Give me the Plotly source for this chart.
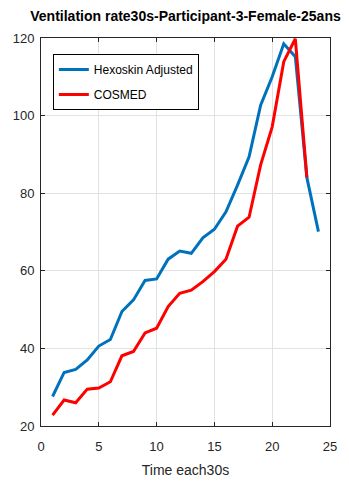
import plotly.graph_objects as go

# Ventilation rate sampled every 30 s
time_steps_hexo = list(range(1, 25))
hexoskin_adjusted = [27.6, 33.8, 34.6, 37.0, 40.6, 42.3, 49.5, 52.5, 57.5, 57.9,
                     63.0, 65.1, 64.5, 68.5, 70.7, 75.2, 82.1, 89.4, 102.7, 110.0,
                     118.5, 115.2, 84.0, 70.1]

time_steps_cosmed = list(range(1, 24))
cosmed = [22.8, 26.7, 26.0, 29.5, 29.8, 31.4, 38.1, 39.2, 44.0, 45.2,
          50.8, 54.2, 55.0, 57.2, 59.8, 63.0, 71.5, 73.8, 87.3, 97.1,
          113.9, 119.8, 84.1]

x_ticks = [0, 5, 10, 15, 20, 25]
y_ticks = [20, 40, 60, 80, 100, 120]

FONT = "Liberation Sans, Arial, Helvetica, sans-serif"
AXIS_COLOR = "#262626"

fig = go.Figure()
fig.add_trace(go.Scatter(x=time_steps_hexo, y=hexoskin_adjusted, mode="lines",
                         name="Hexoskin Adjusted", legendgroup="hexo",
                         line=dict(color="#0072BD", width=3)))
fig.add_trace(go.Scatter(x=time_steps_cosmed, y=cosmed, mode="lines",
                         name="COSMED", legendgroup="cosmed",
                         line=dict(color="#FF0000", width=3)))

axis_common = dict(
    showline=True, linecolor=AXIS_COLOR, linewidth=1, mirror="ticks",
    ticks="inside", ticklen=4, tickcolor=AXIS_COLOR,
    showgrid=True, gridcolor="#e2e2e2", gridwidth=1,
    zeroline=False,
    tickfont=dict(family=FONT, size=13, color=AXIS_COLOR),
)

fig.update_layout(
    width=349, height=487,
    margin=dict(l=41, r=17, t=38, b=61),
    paper_bgcolor="white", plot_bgcolor="white",
    title=dict(text="<b>Ventilation rate30s-Participant-3-Female-25ans</b>",
               font=dict(family=FONT, size=14, color="#000000"),
               xref="paper", x=0.5, xanchor="center", y=0.976, yanchor="top"),
    xaxis=dict(range=[0, 25], tickvals=x_ticks, ticklabelstandoff=8,
               title=dict(text="Time each30s",
                          font=dict(family=FONT, size=14, color=AXIS_COLOR),
                          standoff=12),
               **axis_common),
    yaxis=dict(range=[20, 120], tickvals=y_ticks, ticklabelstandoff=3,
               **axis_common),
    legend=dict(x=0.041, y=0.959, xanchor="left", yanchor="top",
                bordercolor="#000000", borderwidth=1, bgcolor="white",
                font=dict(family=FONT, size=12, color="#000000"),
                tracegroupgap=6),
    showlegend=True,
)

fig.write_html("out.html")
